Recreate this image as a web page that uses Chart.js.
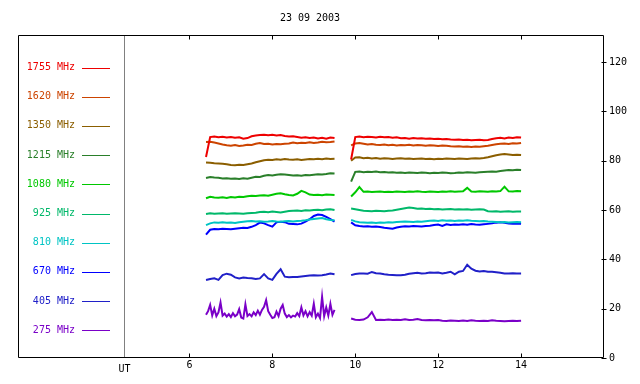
<!DOCTYPE html>
<html>
<head>
<meta charset="utf-8">
<script src="https://cdn.jsdelivr.net/npm/chart.js@4"></script>
<style>
  html, body { margin: 0; padding: 0; background: #fff; }
</style>
</head>
<body>
<canvas id="chart" width="640" height="384"></canvas>
<script>
// time axis (UT hours) - two recording sessions with a gap between
const hoursA = [6.4, 6.5, 6.6, 6.7, 6.8, 6.9, 7.0, 7.1, 7.2, 7.3, 7.4, 7.5, 7.6, 7.7, 7.8, 7.9,
  8.0, 8.1, 8.2, 8.3, 8.4, 8.5, 8.6, 8.7, 8.8, 8.9, 9.0, 9.1, 9.2, 9.3, 9.4, 9.5];
const hoursB = [9.9, 10.0, 10.1, 10.2, 10.3, 10.4, 10.5, 10.6, 10.7, 10.8, 10.9, 11.0, 11.1, 11.2,
  11.3, 11.4, 11.5, 11.6, 11.7, 11.8, 11.9, 12.0, 12.1, 12.2, 12.3, 12.4, 12.5, 12.6, 12.7, 12.8,
  12.9, 13.0, 13.1, 13.2, 13.3, 13.4, 13.5, 13.6, 13.7, 13.8, 13.9, 14.0];
// finer sampling for the noisy 275 MHz first session
const hoursFine = [6.40, 6.45, 6.50, 6.55, 6.60, 6.65, 6.70, 6.75, 6.80, 6.85, 6.90, 6.95,
  7.00, 7.05, 7.10, 7.15, 7.20, 7.25, 7.30, 7.35, 7.40, 7.45, 7.50, 7.55, 7.60, 7.65,
  7.70, 7.75, 7.80, 7.85, 7.90, 7.95, 8.00, 8.05, 8.10, 8.15, 8.20, 8.25, 8.30, 8.35,
  8.40, 8.45, 8.50, 8.55, 8.60, 8.65, 8.70, 8.75, 8.80, 8.85, 8.90, 8.95, 9.00, 9.05,
  9.10, 9.15, 9.20, 9.25, 9.30, 9.35, 9.40, 9.45, 9.50];
const gapHour = 9.7;

const xTicks = [6, 8, 10, 12, 14];
const yTicks = [0, 20, 40, 60, 80, 100, 120];
const xMin = 1.865, xMax = 16, yMax = 131;
const utHour = 4.43;

const freqLabels = ["1755 MHz", "1620 MHz", "1350 MHz", "1215 MHz", "1080 MHz",
  "925 MHz", "810 MHz", "670 MHz", "405 MHz", "275 MHz"];
const freqColors = ["#ee0000", "#cc4400", "#8b5e00", "#2a7f2a", "#00c800",
  "#00b86a", "#00c4c4", "#0000ff", "#2020c8", "#7a00c8"];

const f1755A = [81.5, 89.6, 89.8, 89.5, 89.7, 89.4, 89.6, 89.3, 89.5, 88.9,
  89.2, 89.9, 90.2, 90.4, 90.5, 90.3, 90.5, 90.2, 90.4, 90.0,
  89.8, 89.9, 89.6, 89.3, 89.5, 89.2, 89.4, 89.0, 89.3, 88.9, 89.4, 89.2];
const f1755B = [80.5, 89.6, 89.8, 89.5, 89.7, 89.6, 89.4, 89.7, 89.5, 89.6,
  89.3, 89.5, 89.1, 89.2, 88.9, 89.2, 89.0, 89.1, 88.9, 89.0,
  88.8, 88.9, 88.7, 88.8, 88.6, 88.5, 88.6, 88.4, 88.5, 88.3,
  88.4, 88.5, 88.3, 88.4, 88.8, 89.1, 89.3, 89.0, 89.4, 89.2, 89.5, 89.4];

const f1620A = [87.6, 87.7, 87.4, 87.0, 86.6, 86.3, 86.1, 86.4, 86.0, 86.2,
  86.5, 86.4, 86.9, 87.2, 86.8, 86.9, 86.6, 86.8, 86.7, 86.9,
  87.0, 87.4, 87.1, 87.3, 87.2, 87.5, 87.2, 87.4, 87.7, 87.5, 87.6, 87.8];
const f1620B = [86.2, 87.0, 87.2, 86.9, 86.6, 86.8, 86.5, 86.4, 86.6, 86.3,
  86.5, 86.2, 86.4, 86.3, 86.5, 86.2, 86.4, 86.3, 86.1, 86.3,
  86.2, 86.0, 86.2, 86.1, 85.9, 85.8, 85.9, 85.7, 85.8, 85.6,
  85.8, 85.7, 85.9, 86.1, 86.4, 86.7, 86.9, 87.0, 86.8, 87.1, 87.0, 87.2];

const f1350A = [79.3, 79.2, 79.0, 78.9, 78.8, 78.6, 78.3, 78.2, 78.4, 78.3,
  78.6, 78.9, 79.4, 79.8, 80.2, 80.4, 80.3, 80.6, 80.4, 80.7,
  80.5, 80.4, 80.6, 80.3, 80.5, 80.7, 80.6, 80.8, 80.6, 80.9, 80.7, 80.8];
const f1350B = [80.0, 81.3, 81.4, 81.0, 81.2, 80.9, 81.1, 80.8, 81.0, 80.9,
  80.7, 80.9, 81.0, 80.8, 80.9, 80.7, 80.8, 80.9, 80.7, 80.8,
  80.6, 80.8, 80.7, 80.9, 80.8, 80.7, 80.9, 80.8, 80.7, 80.9,
  81.0, 80.9, 81.1, 81.4, 81.8, 82.2, 82.5, 82.7, 82.5, 82.3, 82.4, 82.3];

const f1215A = [73.0, 73.4, 73.2, 73.1, 72.8, 72.9, 72.7, 72.8, 72.6, 72.9,
  72.7, 73.1, 73.5, 73.4, 73.9, 74.2, 74.0, 74.3, 74.5, 74.4,
  74.2, 74.0, 74.1, 73.9, 74.2, 74.1, 74.3, 74.5, 74.4, 74.6, 74.9, 74.8];
const f1215B = [71.5, 75.5, 75.6, 75.3, 75.5, 75.4, 75.6, 75.3, 75.4, 75.2,
  75.3, 75.1, 75.2, 75.0, 75.2, 75.1, 75.0, 75.2, 75.1, 74.9,
  75.1, 75.0, 75.2, 75.1, 74.9, 75.0, 75.2, 75.1, 75.3, 75.2,
  75.1, 75.3, 75.4, 75.5, 75.6, 75.5, 75.8, 76.0, 76.2, 76.1, 76.3, 76.2];

const f1080A = [64.8, 65.4, 65.1, 65.0, 65.2, 64.9, 65.3, 65.1, 65.4, 65.3,
  65.6, 65.8, 65.7, 65.9, 66.0, 65.8, 66.2, 66.6, 66.8, 66.4,
  66.1, 65.9, 66.6, 67.8, 67.2, 66.3, 66.1, 66.2, 66.0, 66.3, 66.2, 66.1];
const f1080B = [65.5, 67.2, 69.3, 67.4, 67.5, 67.3, 67.4, 67.5, 67.3, 67.4,
  67.3, 67.5, 67.4, 67.3, 67.5, 67.4, 67.6, 67.4, 67.3, 67.5,
  67.4, 67.3, 67.5, 67.4, 67.6, 67.4, 67.5, 67.6, 69.0, 67.5,
  67.4, 67.6, 67.5, 67.4, 67.6, 67.5, 67.7, 69.5, 67.6, 67.5, 67.7, 67.6];

const f925A = [58.4, 58.7, 58.5, 58.6, 58.7, 58.5, 58.6, 58.7, 58.6, 58.5,
  58.7, 58.8, 58.9, 59.2, 59.3, 59.1, 59.4, 59.2, 59.0, 59.3,
  59.6, 59.7, 59.8, 59.6, 59.9, 59.8, 60.0, 60.1, 59.9, 60.2, 60.3, 60.0];
const f925B = [60.6, 60.3, 60.0, 59.7, 59.6, 59.5, 59.7, 59.6, 59.5, 59.7,
  59.8, 60.1, 60.4, 60.7, 61.0, 60.8, 60.5, 60.6, 60.4, 60.5,
  60.3, 60.4, 60.2, 60.3, 60.4, 60.2, 60.3, 60.2, 60.3, 60.1,
  60.2, 60.3, 60.2, 59.5, 59.4, 59.5, 59.3, 59.4, 59.5, 59.3, 59.4, 59.4];

const f810A = [53.9, 54.6, 55.0, 54.9, 55.1, 54.9, 55.0, 54.8, 55.1, 55.3,
  55.5, 55.6, 55.4, 55.5, 55.3, 55.4, 55.6, 55.4, 55.3, 55.5,
  55.6, 55.4, 55.6, 55.7, 55.9, 56.2, 56.4, 56.6, 56.8, 56.3, 56.0, 55.9];
const f810B = [56.0, 55.4, 55.1, 55.0, 54.9, 55.0, 54.8, 55.0, 54.9, 55.1,
  55.0, 55.2, 55.3, 55.4, 55.3, 55.2, 55.4, 55.3, 55.5, 55.7,
  55.8, 55.6, 55.9, 55.7, 55.8, 55.6, 55.8, 55.7, 55.9, 55.7,
  55.6, 55.5, 55.6, 55.4, 55.3, 55.2, 55.1, 55.2, 55.0, 55.1, 55.2, 55.1];

const f670A = [50.0, 52.0, 52.3, 52.2, 52.4, 52.3, 52.2, 52.4, 52.6, 52.8,
  52.7, 53.2, 53.9, 54.9, 54.6, 53.9, 53.3, 55.0, 55.3, 55.1,
  54.4, 54.3, 54.2, 54.5, 55.3, 56.3, 57.6, 58.2, 58.0, 57.2, 56.3, 55.3];
const f670B = [55.0, 53.8, 53.5, 53.3, 53.4, 53.2, 53.3, 53.1, 52.8, 52.6,
  52.4, 52.9, 53.2, 53.4, 53.3, 53.5, 53.4, 53.3, 53.5, 53.6,
  53.9, 54.1, 53.6, 54.2, 53.9, 54.1, 54.0, 54.2, 54.0, 54.3,
  54.1, 54.0, 54.2, 54.4, 54.6, 54.9, 55.1, 54.8, 54.5, 54.4, 54.5, 54.4];

const f405A = [31.6, 32.0, 32.3, 31.7, 33.6, 34.2, 33.8, 32.7, 32.3, 32.6,
  32.4, 32.3, 32.0, 32.3, 34.0, 32.3, 31.7, 34.1, 36.0, 33.0,
  32.8, 32.9, 32.9, 33.1, 33.3, 33.5, 33.6, 33.5, 33.6, 33.9, 34.3, 34.0];
const f405B = [33.6, 34.1, 34.3, 34.3, 34.2, 34.9, 34.4, 34.3, 34.0, 33.8,
  33.7, 33.6, 33.6, 33.8, 34.2, 34.4, 34.6, 34.3, 34.4, 34.7,
  34.6, 34.7, 34.3, 34.6, 35.0, 33.9, 35.0, 35.3, 37.8, 36.2,
  35.4, 35.1, 35.3, 35.0, 35.0, 34.8, 34.6, 34.3, 34.3, 34.4, 34.3, 34.3];

const f275A = [17.5, 19.0, 21.5, 17.3, 20.0, 17.0, 18.5, 22.5, 17.2, 18.0,
  16.8, 17.8, 16.6, 18.2, 16.9, 17.6, 19.8, 16.4, 16.0, 21.8,
  17.0, 17.8, 16.9, 18.5, 17.4, 19.2, 17.6, 19.5, 20.8, 23.5,
  19.0, 17.5, 16.2, 16.5, 18.8, 17.0, 20.0, 21.5, 18.0, 16.6,
  17.4, 16.5, 17.2, 16.8, 18.2, 17.0, 20.5, 17.3, 19.0, 16.9,
  18.6, 17.2, 22.0, 16.5, 18.0, 16.2, 24.8, 17.0, 20.5, 17.2,
  22.0, 17.5, 19.5];
const f275B = [16.0, 15.5, 15.4, 15.6, 16.5, 18.6, 15.4, 15.5, 15.4, 15.6,
  15.4, 15.5, 15.4, 15.7, 15.4, 15.5, 15.8, 15.4, 15.3, 15.4,
  15.3, 15.4, 15.1, 15.0, 15.2, 15.1, 15.0, 15.2, 15.0, 15.3,
  15.1, 15.0, 15.1, 15.0, 15.3, 15.1, 15.0, 14.9, 15.0, 15.1, 15.0, 15.1];

const sessions = [
  [hoursA, f1755A, f1755B], [hoursA, f1620A, f1620B], [hoursA, f1350A, f1350B],
  [hoursA, f1215A, f1215B], [hoursA, f1080A, f1080B], [hoursA, f925A, f925B],
  [hoursA, f810A, f810B], [hoursA, f670A, f670B], [hoursA, f405A, f405B],
  [hoursFine, f275A, f275B],
];

const FONT = "'DejaVu Sans Mono', monospace";

function toPoints(ha, a, b) {
  return ha.map((h, i) => ({ x: h, y: a[i] }))
    .concat([{ x: gapHour, y: null }])
    .concat(hoursB.map((h, i) => ({ x: h, y: b[i] })));
}

const datasets = sessions.map((s, k) => ({
  label: freqLabels[k],
  data: toPoints(s[0], s[1], s[2]),
  borderColor: freqColors[k],
  borderWidth: 2,
  pointRadius: 0,
  tension: 0,
  spanGaps: false,
}));

// frame, inward ticks, UT line, title and the frequency key
const decorations = {
  id: "decorations",
  afterDraw(chart) {
    const { ctx, chartArea: ca, scales } = chart;
    const xs = scales.x, ys = scales.y;
    const L = Math.round(ca.left) + 0.5, R = Math.round(ca.right) - 0.5;
    const T = Math.round(ca.top) + 0.5, B = Math.round(ca.bottom) - 0.5;
    ctx.save();

    // UT separator
    const ux = Math.round(xs.getPixelForValue(utHour)) + 0.5;
    ctx.strokeStyle = "#808080";
    ctx.lineWidth = 1;
    ctx.beginPath();
    ctx.moveTo(ux, T);
    ctx.lineTo(ux, B);
    ctx.stroke();

    // frame
    ctx.strokeStyle = "#000";
    ctx.beginPath();
    ctx.moveTo(L, T); ctx.lineTo(R, T); ctx.lineTo(R, B); ctx.lineTo(L, B); ctx.closePath();
    ctx.stroke();

    ctx.beginPath();
    xTicks.forEach(v => {
      const px = Math.round(xs.getPixelForValue(v)) + 0.5;
      ctx.moveTo(px, B); ctx.lineTo(px, B - 4);
      ctx.moveTo(px, T); ctx.lineTo(px, T + 4);
    });
    yTicks.forEach(v => {
      const py = Math.round(ys.getPixelForValue(v)) + 0.5;
      ctx.moveTo(R - 2, py); ctx.lineTo(R + 3, py);
    });
    ctx.stroke();

    ctx.font = "10px " + FONT;
    ctx.fillStyle = "#000";
    ctx.textAlign = "center";
    ctx.textBaseline = "middle";
    ctx.fillText("23 09 2003", 310, 18.5);
    ctx.fillText("UT", ux, 369);

    // key
    freqLabels.forEach((lab, k) => {
      const y = 67.5 + k * 29.2;
      const ly = Math.round(y) + 0.5;
      ctx.fillStyle = freqColors[k];
      ctx.strokeStyle = freqColors[k];
      ctx.textAlign = "right";
      ctx.fillText(lab, 75, y);
      ctx.beginPath();
      ctx.moveTo(82, ly); ctx.lineTo(110, ly);
      ctx.stroke();
    });
    ctx.restore();
  },
};

new Chart(document.getElementById("chart"), {
  type: "line",
  data: { datasets },
  options: {
    responsive: false,
    animation: false,
    layout: { padding: { left: 18, top: 35, right: 0, bottom: 0 } },
    plugins: {
      legend: { display: false },
      tooltip: { enabled: false },
      title: { display: false },
    },
    scales: {
      x: {
        type: "linear",
        min: xMin,
        max: xMax,
        afterBuildTicks: s => { s.ticks = xTicks.map(v => ({ value: v })); },
        afterFit: s => { s.height = 26; },
        grid: { display: false, drawTicks: false },
        border: { display: false },
        ticks: { color: "#000", font: { family: FONT, size: 10 }, padding: 1, maxRotation: 0, autoSkip: false },
      },
      y: {
        position: "right",
        min: 0,
        max: yMax,
        afterBuildTicks: s => { s.ticks = yTicks.map(v => ({ value: v })); },
        afterFit: s => { s.width = 36; },
        grid: { display: false, drawTicks: false },
        border: { display: false },
        ticks: { color: "#000", font: { family: FONT, size: 10 }, padding: 5, autoSkip: false },
      },
    },
  },
  plugins: [decorations],
});
</script>
</body>
</html>
